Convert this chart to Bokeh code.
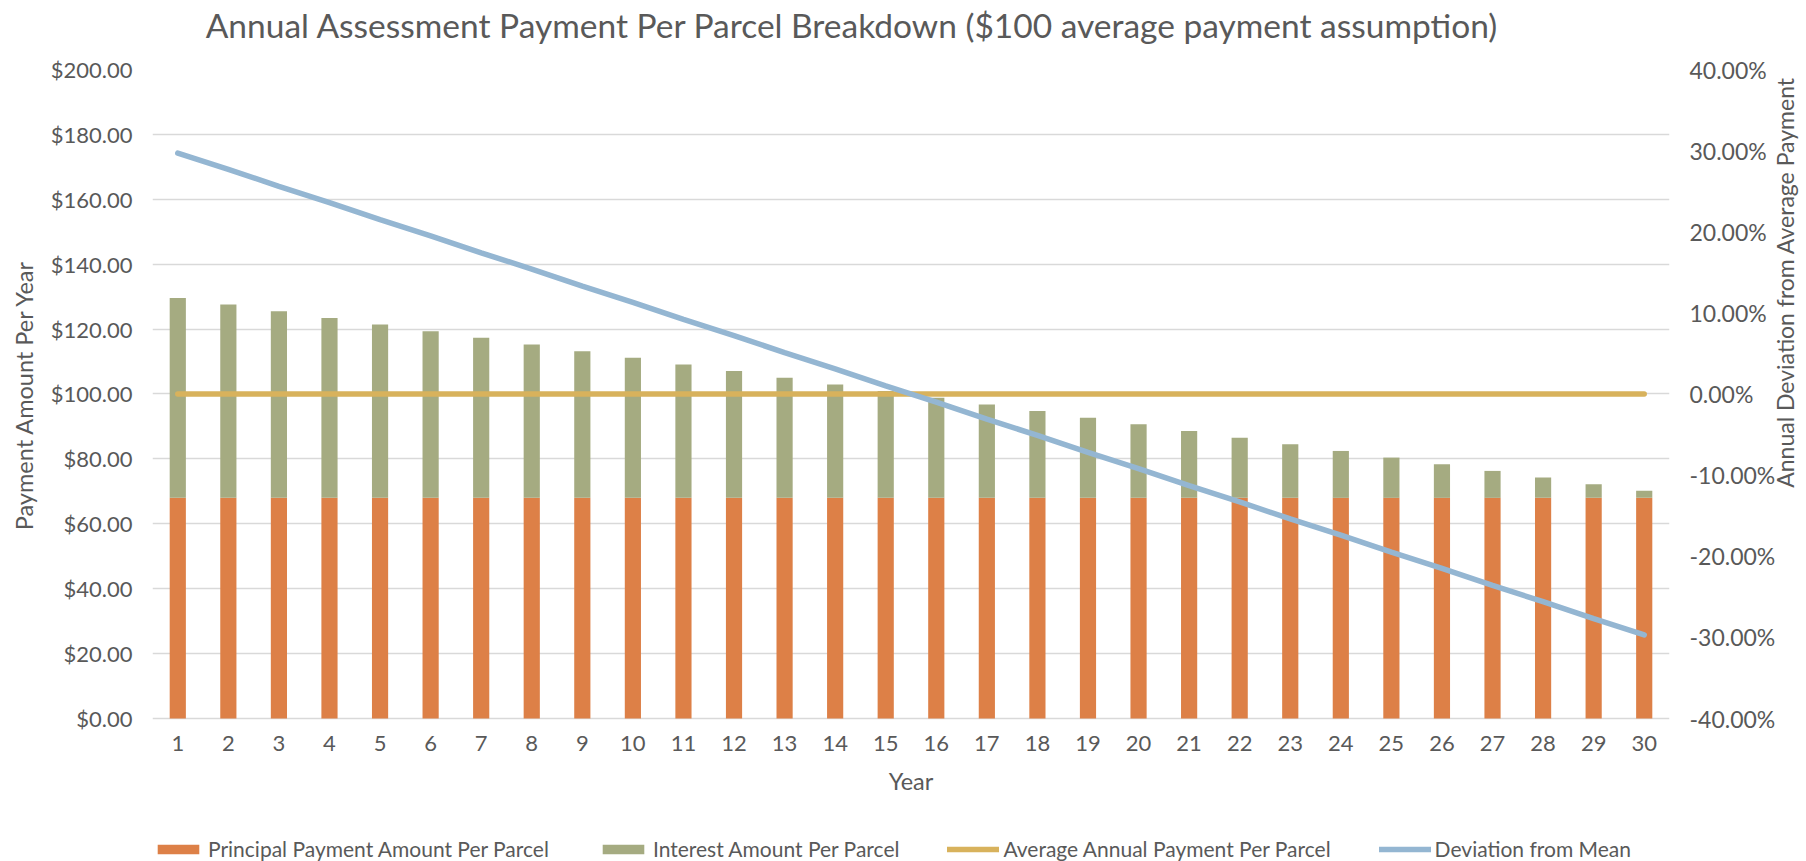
from bokeh.plotting import figure
from bokeh.models import (ColumnDataSource, Range1d, LinearAxis, FixedTicker,
                          PrintfTickFormatter, Legend, LegendItem)
from bokeh.embed import file_html
from bokeh.resources import INLINE
import math

years = list(range(1, 31))
principal = [68.0] * 30
interest = [61.6, 59.55, 57.5, 55.45, 53.4, 51.35, 49.3, 47.25, 45.2, 43.15,
            41.1, 39.05, 37.0, 34.95, 32.9, 30.85, 28.8, 26.75, 24.7, 22.65,
            20.6, 18.55, 16.5, 14.45, 12.4, 10.35, 8.3, 6.25, 4.2, 2.15]
average_payment = [100.0] * 30
deviation_pct = [29.7, 27.7, 25.6, 23.6, 21.5, 19.5, 17.4, 15.4, 13.3, 11.3,
                 9.2, 7.2, 5.1, 3.1, 1.0, -1.0, -3.1, -5.1, -7.2, -9.2,
                 -11.3, -13.3, -15.4, -17.4, -19.5, -21.5, -23.6, -25.6, -27.7, -29.7]
left_ticks = [0, 20, 40, 60, 80, 100, 120, 140, 160, 180, 200]
right_ticks = [-40, -30, -20, -10, 0, 10, 20, 30, 40]

title_text = "Annual Assessment Payment Per Parcel Breakdown ($100 average payment assumption)"
left_title = "Payment Amount Per Year"
right_title = "Annual Deviation from Average Payment"
x_title = "Year"
series_names = ["Principal Payment Amount Per Parcel", "Interest Amount Per Parcel",
                "Average Annual Payment Per Parcel", "Deviation from Mean"]

ORANGE = "#DD8047"
GREEN = "#A5AB81"
GOLD = "#D8B25C"
BLUE = "#94B6D2"
TXT = "#595959"
GRID = "#D9D9D9"
FONT = "Lato"

src = ColumnDataSource(dict(year=years, principal=principal, interest=interest,
                            avg=average_payment, dev=deviation_pct))

# the frame reaches the bottom of the page so that the x axis (fixed at 0)
# and the legend can be drawn inside it, below the $0 line
p = figure(frame_width=1517, frame_height=792,
           x_range=Range1d(0.5, 30.5), y_range=Range1d(-44.068, 200),
           output_backend="svg", toolbar_location=None,
           min_border_left=152, min_border_right=137,
           min_border_top=69, min_border_bottom=0)
p.outline_line_color = None
p.background_fill_color = "white"
p.border_fill_color = "white"
p.extra_y_ranges = {"pct": Range1d(-57.627, 40)}

bars = p.vbar_stack(["principal", "interest"], x="year", width=0.32,
                    color=[ORANGE, GREEN], line_color=None, source=src)
avg_line = p.line("year", "avg", source=src, line_color=GOLD, line_width=5.5,
                  line_cap="round")
dev_line = p.line("year", "dev", source=src, line_color=BLUE, line_width=5.5,
                  line_cap="round", y_range_name="pct")

p.xgrid.visible = False
p.ygrid.grid_line_color = GRID
p.ygrid.grid_line_width = 1.5
p.ygrid.ticker = FixedTicker(ticks=left_ticks)


def style_axis(ax, standoff, tick_size="22px", label_size="23.5px"):
    ax.axis_line_color = None
    ax.major_tick_line_color = None
    ax.minor_tick_line_color = None
    ax.major_tick_out = 0
    ax.major_tick_in = 0
    ax.major_label_standoff = standoff
    ax.major_label_text_font = FONT
    ax.major_label_text_font_size = tick_size
    ax.major_label_text_color = TXT
    ax.axis_label_text_font = FONT
    ax.axis_label_text_font_size = label_size
    ax.axis_label_text_font_style = "normal"
    ax.axis_label_text_color = TXT


xa = p.xaxis[0]
xa.ticker = FixedTicker(ticks=years)
style_axis(xa, 18)
xa.axis_label = x_title
xa.axis_label_standoff = 12
xa.fixed_location = 0

ya = p.yaxis[0]
ya.ticker = FixedTicker(ticks=left_ticks)
ya.formatter = PrintfTickFormatter(format="$%.2f")
style_axis(ya, 20)
# leading em-spaces lift the centred label to the middle of the $0-$200 span
ya.axis_label = "\u2003" * 8 + left_title
ya.axis_label_standoff = 10

ra = LinearAxis(y_range_name="pct", ticker=FixedTicker(ticks=right_ticks),
                formatter=PrintfTickFormatter(format="%.2f%%"))
style_axis(ra, 20, tick_size="23px", label_size="23px")
ra.axis_label = "\u2003" * 21 + "\u2002" + right_title
ra.axis_label_standoff = 7
ra.axis_label_orientation = math.pi / 2
if "axis_label_align" in ra.properties():
    ra.axis_label_align = "start"
p.add_layout(ra, "right")

# chart title drawn as the label of a tick-less axis above the frame
ta = LinearAxis(ticker=FixedTicker(ticks=[]))
style_axis(ta, 0, label_size="33.5px")
ta.major_label_text_font_size = "1px"
ta.axis_label = title_text + "\u2002" * 7
ta.axis_label_standoff = 25
p.add_layout(ta, "above")

renderers = [bars[0], bars[1], avg_line, dev_line]
lg = Legend(items=[LegendItem(label=n, renderers=[r]) for n, r in zip(series_names, renderers)],
            location=(0, 0), orientation="horizontal",
            glyph_width=52, glyph_height=12, label_standoff=4,
            padding=0, margin=0, spacing=48,
            border_line_color=None, background_fill_alpha=0,
            label_text_font=FONT, label_text_font_size="21px",
            label_text_color=TXT, label_height=24)
p.add_layout(lg)

open("out.html", "w").write(file_html(p, INLINE))
